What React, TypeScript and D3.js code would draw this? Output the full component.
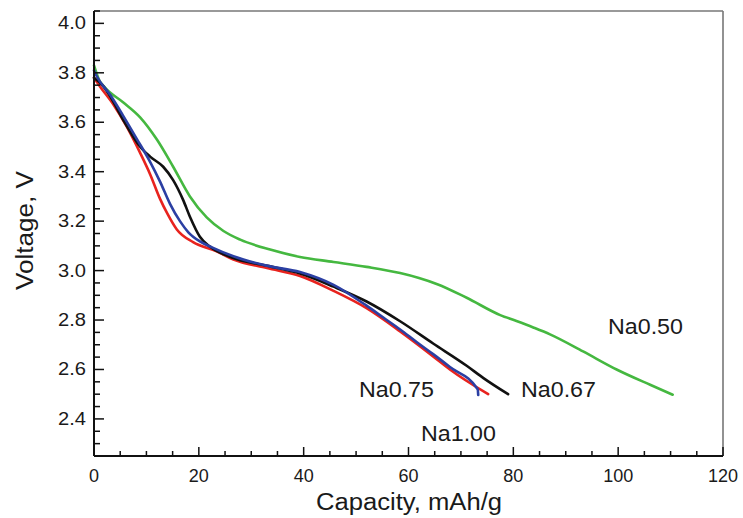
import React from "react";
import * as d3 from "d3";

const W = 743;
const H = 518;

const xTicks = [0, 20, 40, 60, 80, 100, 120];
const yTicks = [2.4, 2.6, 2.8, 3.0, 3.2, 3.4, 3.6, 3.8, 4.0];

const na050: [number, number][] = [
  [0, 3.83], [1, 3.77], [2.1, 3.74], [5.6, 3.68], [8.8, 3.62], [12.0, 3.53], [15.1, 3.42],
  [18.3, 3.3], [21.5, 3.215], [24.7, 3.16], [27.9, 3.125], [33.6, 3.085], [39.3, 3.055],
  [45.7, 3.035], [52.0, 3.015], [58.4, 2.99], [62.0, 2.97], [65.5, 2.945], [71.1, 2.89],
  [77.5, 2.82], [80.6, 2.796], [83.8, 2.77], [87.0, 2.742], [93.3, 2.673], [99.7, 2.6],
  [106.1, 2.538], [110.4, 2.498],
];

const na067: [number, number][] = [
  [0, 3.78], [1.8, 3.745], [3.05, 3.706], [5.6, 3.609], [8.8, 3.501], [10.7, 3.461],
  [13.2, 3.42], [15.1, 3.366], [17.0, 3.286], [18.3, 3.218], [20.2, 3.137], [22.1, 3.097],
  [25.9, 3.056], [33.6, 3.017], [39.3, 2.988], [45.7, 2.935], [52.0, 2.875], [58.4, 2.795],
  [64.7, 2.705], [71.1, 2.615], [74.3, 2.565], [79.0, 2.5],
];

const na100: [number, number][] = [
  [0, 3.78], [1.1, 3.746], [3.7, 3.672], [6.2, 3.584], [8.8, 3.476], [10.7, 3.39],
  [12.6, 3.29], [14.0, 3.23], [15.8, 3.166], [18.9, 3.115], [23.4, 3.078], [26.6, 3.045],
  [33.0, 3.01], [39.3, 2.978], [45.7, 2.918], [52.0, 2.848], [58.4, 2.754], [64.7, 2.653],
  [67.9, 2.6], [75.2, 2.5],
];

const na075: [number, number][] = [
  [0, 3.81], [0.5, 3.787], [3.05, 3.712], [5.6, 3.625], [8.1, 3.535], [10.7, 3.44],
  [12.6, 3.36], [14.5, 3.27], [16.4, 3.2], [18.0, 3.155], [20.2, 3.118], [22.5, 3.094],
  [26.6, 3.058], [32.9, 3.02], [39.3, 2.994], [45.7, 2.942], [52.0, 2.858], [55.2, 2.81],
  [58.4, 2.762], [61.6, 2.71], [64.7, 2.662], [67.9, 2.61], [73.2, 2.52], [73.3, 2.497],
];

const series = [
  { name: "Na0.50", data: na050, color: "#45b840" },
  { name: "Na1.00", data: na100, color: "#e8231e" },
  { name: "Na0.67", data: na067, color: "#111111" },
  { name: "Na0.75", data: na075, color: "#2b3fa3" },
];

const labels = [
  { text: "Na0.50", x: 608, y: 334 },
  { text: "Na0.75", x: 359, y: 397 },
  { text: "Na0.67", x: 521, y: 397 },
  { text: "Na1.00", x: 421, y: 441 },
];

export default function App() {
  const left = 94, right = 723, top = 11, bottom = 456;
  const x = d3.scaleLinear().domain([0, 120]).range([left, right]);
  const y = d3.scaleLinear().domain([2.25, 4.05]).range([bottom, top]);
  const line = d3
    .line<[number, number]>()
    .x((d) => x(d[0]))
    .y((d) => y(d[1]))
    .curve(d3.curveMonotoneX);

  const xMinor = d3.range(0, 120.001, 5);
  const yMinor = d3.range(2.25, 4.0501, 0.05).map((v) => Math.round(v * 100) / 100);
  const font = "'Liberation Sans', Arial, Helvetica, sans-serif";
  const textColor = "#1a1a1a";

  return (
    <svg
      width={W}
      height={H}
      style={{ position: "absolute", left: 0, top: 0, background: "#fff" }}
      fontFamily={font}
    >
      <rect x={0} y={0} width={W} height={H} fill="#fff" />
      <line x1={left} y1={top} x2={right} y2={top} stroke="#777" strokeWidth={1.6} />
      <line x1={right} y1={top} x2={right} y2={bottom} stroke="#777" strokeWidth={1.6} />

      {series.map((s) => (
        <path
          key={s.name}
          d={line(s.data) || ""}
          fill="none"
          stroke={s.color}
          strokeWidth={2.6}
          strokeLinejoin="round"
          strokeLinecap="round"
        />
      ))}

      <line x1={left} y1={bottom} x2={right} y2={bottom} stroke="#111" strokeWidth={2} />
      {xMinor.map((v) => {
        const major = xTicks.includes(Math.round(v));
        return (
          <line
            key={"xm" + v}
            x1={x(v)}
            x2={x(v)}
            y1={bottom}
            y2={bottom - (major ? 9 : 5)}
            stroke="#111"
            strokeWidth={1.5}
          />
        );
      })}
      {xTicks.map((v) => (
        <text key={"xt" + v} x={x(v)} y={482} textAnchor="middle" fontSize={18} fill={textColor}>
          {v}
        </text>
      ))}

      <line x1={left} y1={top} x2={left} y2={bottom} stroke="#111" strokeWidth={2} />
      {yMinor.map((v) => {
        const major = yTicks.some((t) => Math.abs(t - v) < 1e-6);
        return (
          <line
            key={"ym" + v}
            x1={left}
            x2={left + (major ? 10 : 6)}
            y1={y(v)}
            y2={y(v)}
            stroke="#111"
            strokeWidth={1.5}
          />
        );
      })}
      {yTicks.map((v) => (
        <text
          key={"yt" + v}
          x={86}
          y={y(v) + 6}
          textAnchor="end"
          fontSize={18}
          fill={textColor}
          textLength={28}
          lengthAdjust="spacingAndGlyphs"
        >
          {v.toFixed(1)}
        </text>
      ))}

      <text x={316} y={510} fontSize={23} fill={textColor} textLength={186} lengthAdjust="spacingAndGlyphs">
        Capacity, mAh/g
      </text>
      <text
        transform={`translate(33,290) rotate(-90)`}
        x={0}
        y={0}
        fontSize={23}
        fill={textColor}
        textLength={119}
        lengthAdjust="spacingAndGlyphs"
      >
        Voltage, V
      </text>

      {labels.map((l) => (
        <text
          key={l.text}
          x={l.x}
          y={l.y}
          fontSize={22}
          fill={textColor}
          textLength={75}
          lengthAdjust="spacingAndGlyphs"
        >
          {l.text}
        </text>
      ))}
    </svg>
  );
}
